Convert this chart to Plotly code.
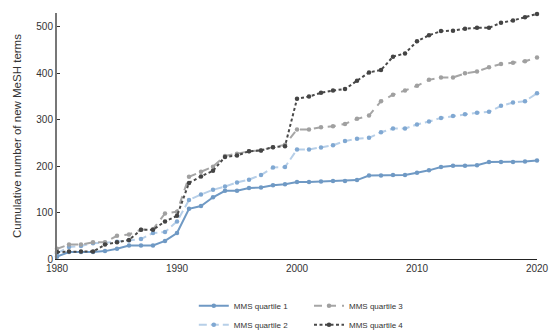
import plotly.graph_objects as go

years = list(range(1980, 2021))

q1 = [5, 15, 15, 15, 17, 22, 29, 29, 29, 39, 56, 108, 114, 133, 147, 147, 153, 154, 159, 161,
      166, 166, 167, 168, 168, 170, 180, 180, 181, 181, 186, 191, 198, 201, 201, 202, 209, 209, 209, 210, 212]
q2 = [12, 26, 28, 34, 35, 37, 40, 43, 56, 58, 81, 127, 139, 149, 156, 165, 171, 181, 197, 198,
      236, 236, 240, 245, 254, 259, 261, 273, 281, 281, 290, 296, 304, 308, 312, 315, 317, 330, 337, 340, 357]
q3 = [22, 31, 31, 36, 36, 50, 53, 63, 64, 98, 102, 177, 188, 199, 222, 227, 232, 234, 241, 246,
      279, 279, 284, 286, 291, 302, 309, 340, 354, 363, 373, 386, 391, 391, 400, 404, 413, 420, 423, 426, 434]
q4 = [15, 16, 16, 16, 31, 36, 41, 63, 63, 81, 93, 164, 178, 190, 220, 223, 232, 234, 241, 243,
      345, 350, 358, 363, 366, 384, 402, 407, 436, 443, 469, 482, 491, 492, 496, 498, 498, 509, 514, 521, 528]

series_names = ["MMS quartile 1", "MMS quartile 2", "MMS quartile 3", "MMS quartile 4"]
x_ticks = [1980, 1990, 2000, 2010, 2020]
y_ticks = [0, 100, 200, 300, 400, 500]

FONT = "Liberation Sans, Arial, sans-serif"

styles = [
    dict(line=dict(color="#6f99c4", width=2, dash="solid"), marker=dict(color="#6f99c4", size=4.5), legend="legend"),
    dict(line=dict(color="#b7cfe8", width=2, dash="8px,4px"), marker=dict(color="#80a8d2", size=4.5), legend="legend"),
    dict(line=dict(color="#a6a6a6", width=2, dash="8px,6px"), marker=dict(color="#a0a0a0", size=4.5), legend="legend2"),
    dict(line=dict(color="#4a4a4a", width=2, dash="3px,2.5px"), marker=dict(color="#444444", size=4.5), legend="legend2"),
]

fig = go.Figure()
for name, vals, st in zip(series_names, [q1, q2, q3, q4], styles):
    fig.add_trace(go.Scatter(
        x=years, y=vals, name=name, mode="lines+markers",
        line=st["line"], marker=st["marker"], legend=st["legend"],
        cliponaxis=False,
    ))

legend_common = dict(
    font=dict(family=FONT, size=8, color="#333333"),
    bgcolor="rgba(0,0,0,0)", borderwidth=0,
    orientation="v", xanchor="left", yanchor="top",
    tracegroupgap=0,
)

fig.update_layout(
    width=552, height=332,
    margin=dict(l=57.3, r=14.7, t=12.5, b=72.7, autoexpand=False),
    paper_bgcolor="white", plot_bgcolor="white",
    font=dict(family=FONT, size=10, color="#333333"),
    showlegend=True,
    legend=dict(x=0.285, y=-0.131, **legend_common),
    legend2=dict(x=0.525, y=-0.131, **legend_common),
    xaxis=dict(
        range=[1980, 2020], tickvals=x_ticks, ticktext=[str(v) for v in x_ticks],
        showgrid=False, zeroline=False, showline=True, linecolor="#222222", linewidth=1,
        ticks="", tickfont=dict(family=FONT, size=10, color="#333333"),
    ),
    yaxis=dict(
        range=[0, 530], tickvals=y_ticks, ticktext=[str(v) for v in y_ticks],
        showgrid=False, zeroline=False, showline=True, linecolor="#777777", linewidth=2,
        ticks="inside", ticklen=3, tickcolor="#333333", tickwidth=1,
        tickfont=dict(family=FONT, size=10, color="#333333"),
        title=dict(text="Cumulative number of new MeSH terms",
                   font=dict(family=FONT, size=11.5, color="#333333"), standoff=12),
    ),
)

fig.write_html("out.html")
